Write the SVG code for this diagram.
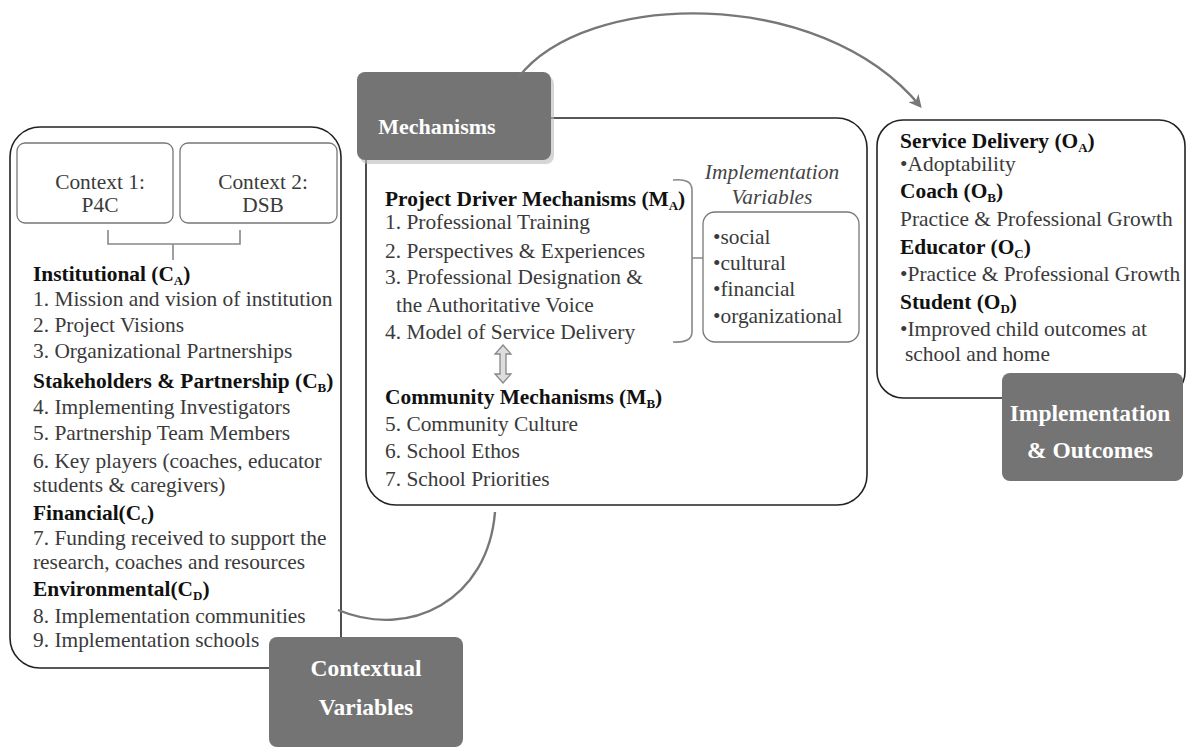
<svg xmlns="http://www.w3.org/2000/svg" width="1190" height="748" viewBox="0 0 1190 748">
<style>
.t{font-family:'Liberation Serif','Tinos','DejaVu Serif','Times New Roman',serif;font-size:21.4px;fill:#3a3a3a}
.b{font-weight:bold;fill:#111}
.i{font-style:italic;fill:#444}
.s{font-size:13px}
.box{fill:#fff;stroke:#222;stroke-width:1.6}
.sbox{fill:#fff;stroke:#777;stroke-width:1.3}
.gray{fill:#747474}
.lab{font-family:'Liberation Serif','Tinos','DejaVu Serif','Times New Roman',serif;font-size:23.5px;font-weight:bold;fill:#fff;text-anchor:middle}
.con{fill:none;stroke:#777;stroke-width:2.4}
.br{fill:none;stroke:#888;stroke-width:1.6}
</style>
<defs>
<marker id="ah2" viewBox="0 0 10 10" refX="8" refY="5" markerWidth="13" markerHeight="13" orient="auto" markerUnits="userSpaceOnUse">
<path d="M0,0 L10,5 L0,10 L3,5 z" fill="#777"/>
</marker>
</defs>
<rect width="1190" height="748" fill="#fff"/>

<g id="contextual" font-family="Liberation Serif, serif">
<rect class="box" x="10" y="127" width="331" height="541" rx="30"/>
<rect class="sbox" x="17" y="143" width="156" height="80" rx="8"/>
<rect class="sbox" x="180" y="143" width="157" height="80" rx="8"/>
<text class="t" text-anchor="middle" x="100" y="189">Context 1:</text>
<text class="t" text-anchor="middle" x="100" y="212">P4C</text>
<text class="t" text-anchor="middle" x="263" y="189">Context 2:</text>
<text class="t" text-anchor="middle" x="263" y="212">DSB</text>
<text class="t b" x="33" y="281">Institutional (C<tspan class="s" dy="4">A</tspan><tspan dy="-4">)</tspan></text>
<text class="t" x="33" y="306">1. Mission and vision of institution</text>
<text class="t" x="33" y="332">2. Project Visions</text>
<text class="t" x="33" y="358">3. Organizational Partnerships</text>
<text class="t b" x="33" y="388">Stakeholders &amp; Partnership (C<tspan class="s" dy="4">B</tspan><tspan dy="-4">)</tspan></text>
<text class="t" x="33" y="414">4. Implementing Investigators</text>
<text class="t" x="33" y="440">5. Partnership Team Members</text>
<text class="t" x="33" y="468">6. Key players (coaches, educator</text>
<text class="t" x="33" y="492">students &amp; caregivers)</text>
<text class="t b" x="33" y="520">Financial(C<tspan class="s" dy="4">c</tspan><tspan dy="-4">)</tspan></text>
<text class="t" x="33" y="545">7. Funding received to support the</text>
<text class="t" x="33" y="569">research, coaches and resources</text>
<text class="t b" x="33" y="596">Environmental(C<tspan class="s" dy="4">D</tspan><tspan dy="-4">)</tspan></text>
<text class="t" x="33" y="623">8. Implementation communities</text>
<text class="t" x="33" y="647">9. Implementation schools</text>
<rect class="gray" x="269" y="637" width="194" height="110" rx="8"/>
<text class="lab" x="366" y="676">Contextual</text>
<text class="lab" x="366" y="715">Variables</text>
</g>

<g id="mechanisms" font-family="Liberation Serif, serif">
<rect class="box" x="366" y="118" width="501" height="387" rx="30"/>
<text class="t i" text-anchor="middle" x="772" y="179">Implementation</text>
<text class="t i" text-anchor="middle" x="772" y="204">Variables</text>
<rect class="sbox" x="703" y="212" width="156" height="130" rx="12"/>
<text class="t" x="713" y="244">•social</text>
<text class="t" x="713" y="270">•cultural</text>
<text class="t" x="713" y="296">•financial</text>
<text class="t" x="713" y="323">•organizational</text>
<text class="t b" x="385" y="206">Project Driver Mechanisms (M<tspan class="s" dy="4">A</tspan><tspan dy="-4">)</tspan></text>
<text class="t" x="385" y="229">1. Professional Training</text>
<text class="t" x="385" y="258">2. Perspectives &amp; Experiences</text>
<text class="t" x="385" y="284">3. Professional Designation &amp;</text>
<text class="t" x="396" y="312">the Authoritative Voice</text>
<text class="t" x="385" y="339">4. Model of Service Delivery</text>
<text class="t b" x="385" y="404">Community Mechanisms (M<tspan class="s" dy="4">B</tspan><tspan dy="-4">)</tspan></text>
<text class="t" x="385" y="431">5. Community Culture</text>
<text class="t" x="385" y="458">6. School Ethos</text>
<text class="t" x="385" y="486">7.  School Priorities</text>
<rect x="360" y="76" width="194" height="88" rx="8" fill="#bbb" opacity="0.6"/>
<rect class="gray" x="357" y="72" width="194" height="88" rx="8"/>
<text class="lab" x="437" y="134" style="font-size:22px">Mechanisms</text>
</g>

<g id="outcomes" font-family="Liberation Serif, serif">
<rect class="box" x="877" y="120" width="308" height="278" rx="26"/>
<text class="t b" x="900" y="148">Service Delivery (O<tspan class="s" dy="4">A</tspan><tspan dy="-4">)</tspan></text>
<text class="t" x="900" y="171">•Adoptability</text>
<text class="t b" x="900" y="198">Coach (O<tspan class="s" dy="4">B</tspan><tspan dy="-4">)</tspan></text>
<text class="t" x="900" y="226">Practice &amp; Professional Growth</text>
<text class="t b" x="900" y="254">Educator (O<tspan class="s" dy="4">C</tspan><tspan dy="-4">)</tspan></text>
<text class="t" x="900" y="281">•Practice &amp; Professional Growth</text>
<text class="t b" x="900" y="309">Student (O<tspan class="s" dy="4">D</tspan><tspan dy="-4">)</tspan></text>
<text class="t" x="900" y="336">•Improved child outcomes at</text>
<text class="t" x="905" y="361">school and home</text>
<rect class="gray" x="1002" y="373" width="181" height="108" rx="8"/>
<text class="lab" x="1090" y="421">Implementation</text>
<text class="lab" x="1090" y="458">&amp; Outcomes</text>
</g>

<g id="connectors">
<path class="con" d="M518,78 C585,-10 820,-15 920,106" marker-end="url(#ah2)"/>
<path class="con" d="M495,512 C488,600 410,640 338,610"/>
<path class="br" d="M108,230 L108,244 L240,244 L240,230 M173,244 L173,260"/>
<path class="br" d="M673,180 Q692,178 692,190 L692,332 Q692,343 673,342 M692,258 L703,258"/>
<path d="M503,345 L511,354 L506,354 L506,374 L511,374 L503,383 L495,374 L500,374 L500,354 L495,354 Z" fill="#ddd" stroke="#888" stroke-width="1.3"/>
</g>
</svg>
